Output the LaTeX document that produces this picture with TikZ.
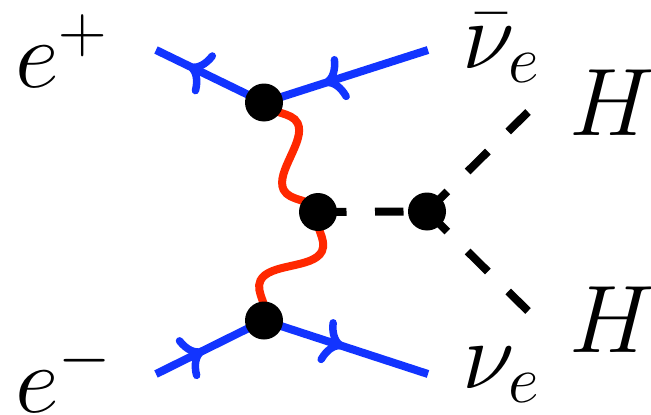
\documentclass[tikz,border=0pt]{standalone}
\usepackage{fix-cm}
\usetikzlibrary{arrows.meta,decorations.markings,decorations.pathmorphing}
\definecolor{fblue}{RGB}{18,52,255}
\definecolor{pred}{RGB}{255,40,0}
\begin{document}
\begin{tikzpicture}[x=1pt,y=-1pt,
  fermion/.style={draw=fblue,line width=8pt},
  farrow/.style={postaction={decorate},decoration={markings,mark=at position #1 with {\arrow{Computer Modern Rightarrow[length=21pt,width=46pt,line width=7.5pt,round,color=fblue]}}}},
  photon/.style={draw=pred,line width=8pt,decorate,decoration={snake,segment length=107pt,amplitude=21pt}},
  scalar/.style={draw=black,line width=8pt,dash pattern=on 28.5pt off 28.5pt},
  vertex/.style={circle,fill=black,inner sep=0pt,minimum size=38pt},
  lab/.style={anchor=base west,inner sep=0pt,font=\fontsize{96}{100}\selectfont}]
\useasboundingbox (0,0) rectangle (651,415);
% vertex positions
\coordinate (vt) at (264,102.5);
\coordinate (vm) at (318,212);
\coordinate (vr) at (427,211.5);
\coordinate (vb) at (264,320.5);
% external line ends
\coordinate (eplusend) at (156,50);
\coordinate (nubarend) at (428,50);
\coordinate (eminusend) at (156,374);
\coordinate (nuend) at (428,374);
\coordinate (h1end) at (528,112);
\coordinate (h2end) at (528,311);
% fermions
\draw[fermion,farrow=0.70] (vt) -- (eplusend);
\draw[fermion,farrow=0.635] (nubarend) -- (vt);
\draw[fermion,farrow=0.44] (eminusend) -- (vb);
\draw[fermion,farrow=0.485] (vb) -- (nuend);
% photons
\draw[photon] (vt) -- (vm);
\draw[photon] (vm) -- (vb);
% scalars
\draw[scalar] (vm) -- (vr);
\draw[scalar] (vr) -- (h1end);
\draw[scalar] (vr) -- (h2end);
% vertices
\node[vertex] (nvt) at (vt) {};
\node[vertex] (nvm) at (vm) {};
\node[vertex] (nvr) at (vr) {};
\node[vertex] (nvb) at (vb) {};
% labels
\node[lab] (lep) at (15,87) {$e^+$};
\node[lab] (lem) at (15,412) {$e^-$};
\node[lab] (lnubar) at (462,68) {$\bar\nu_e$};
\node[lab] (lnu) at (462,388) {$\nu_e$};
\node[lab] (lh1) at (569,135) {$H$};
\node[lab] (lh2) at (569,352) {$H$};
\end{tikzpicture}
\end{document}
